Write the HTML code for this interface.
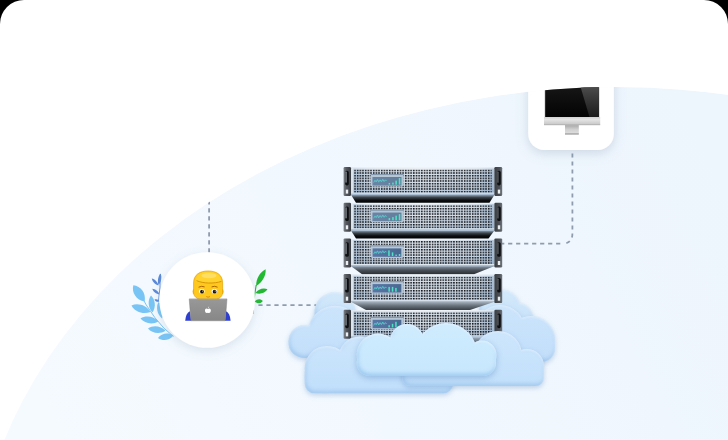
<!DOCTYPE html>
<html><head><meta charset="utf-8">
<style>
html,body{margin:0;padding:0;width:728px;height:440px;background:#000;overflow:hidden;font-family:"Liberation Sans",sans-serif}
#card{position:absolute;left:0;top:0;width:728px;height:440px;background:#fff;border-radius:24px 24px 0 0;overflow:hidden}
svg{position:absolute;left:0;top:0}
</style></head>
<body>
<div id="card">
<svg width="728" height="440" viewBox="0 0 728 440">
<defs>
  <clipPath id="clipC3L"><rect x="280" y="300" width="200" height="93.5"/></clipPath>
  <clipPath id="clipC3R"><rect x="380" y="300" width="200" height="86"/></clipPath>
  <clipPath id="clipC4"><rect x="340" y="300" width="200" height="76"/></clipPath>
  <filter id="cloudFx" x="-20%" y="-30%" width="140%" height="160%" color-interpolation-filters="sRGB">
    <feGaussianBlur in="SourceAlpha" stdDeviation="2.8" result="b1"/>
    <feOffset in="b1" dx="-0.5" dy="1.8" result="o1"/>
    <feFlood flood-color="#4a7fb8" flood-opacity="0.3"/>
    <feComposite in2="o1" operator="in" result="shadow"/>
    <feGaussianBlur in="SourceAlpha" stdDeviation="2.2" result="b2"/>
    <feOffset in="b2" dx="0.8" dy="-1.6" result="o2"/>
    <feComposite in="SourceAlpha" in2="o2" operator="out" result="inner"/>
    <feFlood flood-color="#93bfea" flood-opacity="0.8"/>
    <feComposite in2="inner" operator="in" result="innerC"/>
    <feOffset in="SourceAlpha" dy="1.3" result="o3"/>
    <feGaussianBlur in="o3" stdDeviation="0.8" result="o3b"/>
    <feComposite in="SourceAlpha" in2="o3b" operator="out" result="rim"/>
    <feFlood flood-color="#ffffff" flood-opacity="0.5"/>
    <feComposite in2="rim" operator="in" result="rimC"/>
    <feMerge>
      <feMergeNode in="shadow"/>
      <feMergeNode in="SourceGraphic"/>
      <feMergeNode in="innerC"/>
      <feMergeNode in="rimC"/>
    </feMerge>
  </filter>
  <filter id="cloudFx2" x="-20%" y="-30%" width="140%" height="160%" color-interpolation-filters="sRGB">
    <feGaussianBlur in="SourceAlpha" stdDeviation="3.2" result="b1"/>
    <feOffset in="b1" dx="-0.5" dy="2" result="o1"/>
    <feFlood flood-color="#4a7fb8" flood-opacity="0.4"/>
    <feComposite in2="o1" operator="in" result="shadow"/>
    <feGaussianBlur in="SourceAlpha" stdDeviation="2.2" result="b2"/>
    <feOffset in="b2" dx="1" dy="-1.6" result="o2"/>
    <feComposite in="SourceAlpha" in2="o2" operator="out" result="inner"/>
    <feFlood flood-color="#92c2ee" flood-opacity="0.9"/>
    <feComposite in2="inner" operator="in" result="innerC"/>
    <feOffset in="SourceAlpha" dy="1.4" result="o3"/>
    <feGaussianBlur in="o3" stdDeviation="0.9" result="o3b"/>
    <feComposite in="SourceAlpha" in2="o3b" operator="out" result="rim"/>
    <feFlood flood-color="#ffffff" flood-opacity="0.6"/>
    <feComposite in2="rim" operator="in" result="rimC"/>
    <feMerge>
      <feMergeNode in="shadow"/>
      <feMergeNode in="SourceGraphic"/>
      <feMergeNode in="innerC"/>
      <feMergeNode in="rimC"/>
    </feMerge>
  </filter>

  <clipPath id="ell"><ellipse cx="616" cy="597" rx="643" ry="510"/></clipPath>
  <linearGradient id="bgGrad" gradientUnits="userSpaceOnUse" x1="60" y1="440" x2="700" y2="100">
    <stop offset="0" stop-color="#f5faff"/>
    <stop offset="1" stop-color="#edf5fd"/>
  </linearGradient>
  <filter id="cardShadow" x="-50%" y="-50%" width="200%" height="200%">
    <feDropShadow dx="0" dy="3" stdDeviation="6" flood-color="#6f87a3" flood-opacity="0.28"/>
  </filter>
  <filter id="circShadow" x="-50%" y="-50%" width="200%" height="200%">
    <feDropShadow dx="0" dy="3" stdDeviation="5" flood-color="#7d93ad" flood-opacity="0.22"/>
  </filter>
  <pattern id="dots" x="354.2" y="169.6" width="2.675" height="2.66" patternUnits="userSpaceOnUse">
    <rect x="0" y="0" width="1.55" height="1.55" fill="#0f1216"/>
  </pattern>
  <linearGradient id="panelGradH" x1="0" y1="0" x2="1" y2="0">
    <stop offset="0" stop-color="#a9bdd3"/>
    <stop offset="0.12" stop-color="#cbd6e2"/>
    <stop offset="0.5" stop-color="#dde4ec"/>
    <stop offset="0.88" stop-color="#c8d4e1"/>
    <stop offset="1" stop-color="#a3b8cf"/>
  </linearGradient>
  <linearGradient id="scrBlue" x1="0" y1="0" x2="1" y2="0">
    <stop offset="0" stop-color="#5777a6"/>
    <stop offset="1" stop-color="#4a6790"/>
  </linearGradient>
  <linearGradient id="underGrad3" x1="0" y1="0" x2="0" y2="1">
    <stop offset="0" stop-color="#8d9aa8"/>
    <stop offset="0.5" stop-color="#4a5158"/>
    <stop offset="1" stop-color="#2a2f34"/>
  </linearGradient>
  <linearGradient id="underGrad4" x1="0" y1="0" x2="0" y2="1">
    <stop offset="0" stop-color="#a6b2be"/>
    <stop offset="0.5" stop-color="#68717b"/>
    <stop offset="1" stop-color="#3a4046"/>
  </linearGradient>
  <linearGradient id="panelGradV" x1="0" y1="0" x2="0" y2="1">
    <stop offset="0" stop-color="#ffffff" stop-opacity="0.2"/>
    <stop offset="0.5" stop-color="#8fb0d0" stop-opacity="0"/>
    <stop offset="1" stop-color="#6f96c0" stop-opacity="0.3"/>
  </linearGradient>
  <linearGradient id="handleGrad" x1="0" y1="0" x2="1" y2="0">
    <stop offset="0" stop-color="#7b8189"/>
    <stop offset="0.35" stop-color="#565a60"/>
    <stop offset="1" stop-color="#3a3e43"/>
  </linearGradient>
  <linearGradient id="handleGradR" x1="0" y1="0" x2="1" y2="0">
    <stop offset="0" stop-color="#3a3e43"/>
    <stop offset="0.65" stop-color="#4e5258"/>
    <stop offset="1" stop-color="#6f757c"/>
  </linearGradient>
  <linearGradient id="underGrad" x1="0" y1="0" x2="0" y2="1">
    <stop offset="0" stop-color="#9aabbd"/>
    <stop offset="0.35" stop-color="#3a4249"/>
    <stop offset="0.7" stop-color="#0a0c0e"/>
    <stop offset="1" stop-color="#020303"/>
  </linearGradient>
  <linearGradient id="cloudFront" gradientUnits="userSpaceOnUse" x1="0" y1="323" x2="0" y2="376">
    <stop offset="0" stop-color="#cfecfe"/>
    <stop offset="1" stop-color="#c7e7fd"/>
  </linearGradient>
  <linearGradient id="cloudMid" gradientUnits="userSpaceOnUse" x1="0" y1="330" x2="0" y2="393">
    <stop offset="0" stop-color="#cde6fc"/>
    <stop offset="1" stop-color="#c1dffb"/>
  </linearGradient>
  <linearGradient id="cloudMid2" gradientUnits="userSpaceOnUse" x1="0" y1="305" x2="0" y2="362">
    <stop offset="0" stop-color="#cce5fc"/>
    <stop offset="1" stop-color="#c2defa"/>
  </linearGradient>
  <linearGradient id="cloudBack" gradientUnits="userSpaceOnUse" x1="0" y1="289" x2="0" y2="335">
    <stop offset="0" stop-color="#d3e9fb"/>
    <stop offset="1" stop-color="#c6e0f8"/>
  </linearGradient>
  <linearGradient id="lapGrad" x1="0" y1="0" x2="0" y2="1">
    <stop offset="0" stop-color="#989899"/>
    <stop offset="1" stop-color="#878788"/>
  </linearGradient>
  <linearGradient id="scrGrad" x1="0" y1="0" x2="0" y2="1">
    <stop offset="0" stop-color="#202020"/>
    <stop offset="1" stop-color="#030303"/>
  </linearGradient>
  <linearGradient id="hlGrad" x1="0" y1="0" x2="0" y2="1">
    <stop offset="0" stop-color="#6a6a6a"/>
    <stop offset="0.55" stop-color="#3c3c3c"/>
    <stop offset="1" stop-color="#1c1c1c"/>
  </linearGradient>
  <linearGradient id="chinGrad" x1="0" y1="0" x2="0" y2="1">
    <stop offset="0" stop-color="#d2d2d2"/>
    <stop offset="0.3" stop-color="#e4e4e4"/>
    <stop offset="1" stop-color="#c4c4c4"/>
  </linearGradient>
  <linearGradient id="standGrad" x1="0" y1="0" x2="0" y2="1">
    <stop offset="0" stop-color="#a9a9a9"/>
    <stop offset="0.5" stop-color="#cfcfcf"/>
    <stop offset="1" stop-color="#dedede"/>
  </linearGradient>

  <g id="unit">
    <!-- under shadow -->
    
    <!-- panel -->
    <rect x="350.6" y="167.6" width="144" height="27.2" fill="url(#panelGradH)"/>
    <rect x="350.6" y="167.6" width="144" height="27.2" fill="url(#panelGradV)"/>
    <rect x="350.6" y="167.6" width="144" height="0.8" fill="#f4f7fa"/>
    <rect x="351" y="168" width="2.4" height="25" fill="#e6edf4" opacity="0.8"/>
    <rect x="350.6" y="192.6" width="144" height="1.2" fill="#dfe8f1"/>
    <rect x="350.6" y="193.8" width="144" height="1" fill="#a9bdd3"/>
    <rect x="354.2" y="169.6" width="137.5" height="23" fill="url(#dots)"/>
    <!-- display -->
    <rect x="370.5" y="173.9" width="33.3" height="12.7" rx="2" fill="#b7c6d5"/>
    <rect x="370.5" y="173.9" width="33.3" height="1.2" rx="0.6" fill="#8398ad"/>
    <rect x="372.6" y="177" width="28.7" height="8.4" fill="url(#scrBlue)"/>
    <!-- handles -->
    <rect x="343.6" y="167" width="7.4" height="29" rx="1.2" fill="url(#handleGrad)"/>
    <rect x="345.2" y="170.8" width="3.6" height="14.6" rx="1.6" fill="#0d0f11"/>
    <rect x="345.3" y="171.6" width="1.5" height="11.2" rx="0.7" fill="#7c8188"/>
    <rect x="345.8" y="189.6" width="2.4" height="4" fill="#eceff2"/>
    <rect x="494.4" y="167" width="7.8" height="29" rx="1.2" fill="url(#handleGradR)"/>
    <rect x="497.2" y="170.8" width="3.6" height="14.6" rx="1.6" fill="#0d0f11"/>
    <rect x="497.3" y="171.6" width="1.3" height="11.2" rx="0.6" fill="#5f646b"/>
    <rect x="497.8" y="189.6" width="2.4" height="4" fill="#eceff2"/>
  </g>
</defs>

<g clip-path="url(#ell)">
  <ellipse cx="616" cy="597" rx="643" ry="510" fill="url(#bgGrad)"/>

  <!-- dotted lines -->
  <g stroke="#8e9cae" stroke-width="1.8" fill="none" stroke-dasharray="4.2 3.8">
    <path d="M209.1 152.2 V254"/>
    <path d="M258.4 305.2 H345"/>
    <path d="M572.4 153.4 V233"/>
    <path d="M572.4 233.4 Q572.4 243.6 562.6 243.6" stroke-dasharray="4 4.4"/>
    <path d="M563 243.6 H502" stroke-dashoffset="5.3"/>
  </g>

  <!-- monitor card -->
  <rect x="528.2" y="20" width="85.6" height="130" rx="16" fill="#fff" filter="url(#cardShadow)"/>
  <!-- monitor -->
  <rect x="544.6" y="70" width="54.8" height="47.6" fill="#b9b9b9"/>
  <rect x="545.2" y="70" width="53.6" height="47" fill="url(#scrGrad)"/>
  <polygon points="575.5,70 598.8,70 598.8,117 589.5,117" fill="url(#hlGrad)"/>
  <rect x="544" y="117.1" width="56.2" height="8" fill="url(#chinGrad)"/>
  <rect x="544" y="124.5" width="56.2" height="0.6" fill="#a8a8a8"/>
  <rect x="565" y="125.1" width="13.8" height="8.4" fill="url(#standGrad)"/>
  <rect x="565" y="133.3" width="13.8" height="1.3" fill="#9a9a9a"/>

  <!-- back clouds (behind servers) -->
  <g filter="url(#cloudFx)" fill="url(#cloudBack)">
    <circle cx="335" cy="312.6" r="20.5"/>
    <circle cx="500" cy="310" r="21"/>
    <circle cx="518" cy="318" r="15"/>
  </g>
  <g filter="url(#cloudFx)" fill="url(#cloudMid2)">
    <circle cx="305" cy="341.5" r="16.5"/>
    <circle cx="335" cy="332.8" r="27"/>
    <rect x="288.8" y="330" width="90" height="27.8" rx="16"/>
  </g>
  <g filter="url(#cloudFx)" fill="url(#cloudMid2)">
    <circle cx="500" cy="330" r="25"/>
    <circle cx="531" cy="340" r="24"/>
    <rect x="470" y="330" width="85" height="32" rx="14"/>
  </g>

  <!-- servers -->
  <polygon transform="translate(0 0)" points="350.8,194.6 494.6,194.6 489.5,202.8 356,202.8" fill="url(#underGrad)"/>
  <use href="#unit" y="0"/>
  <g transform="translate(0 0)"><rect x="372.6" y="177" width="28.7" height="8.4" fill="#7890a6" opacity="0.55"/><path d="M373.6 182.6 l1.4 -2.2 l1.2 1.6 l1.3 -2.6 l1.2 2.8 l1.4 -2.4 l1.3 2 l1.4 -2.6 l1.3 2.4 l1.4 -1.8 l1.2 1.2" stroke="#58d6cf" stroke-width="0.8" fill="none" opacity="0.9"/><path d="M374 180.5 h12" stroke="#58d6cf" stroke-width="0.5" opacity="0.45"/><rect x="388.6" y="183.0" width="1.5" height="1.6" fill="#4fe3c6"/><rect x="392.2" y="182.6" width="1.5" height="2" fill="#4fe3c6"/><rect x="395.4" y="180.6" width="1.5" height="4" fill="#4fe3c6"/><rect x="398.8" y="178.0" width="1.5" height="6.6" fill="#4fe3c6"/></g>
  <polygon transform="translate(0 35.7)" points="350.8,194.6 494.6,194.6 488.5,202.8 356,202.8" fill="url(#underGrad)"/>
  <use href="#unit" y="35.7"/>
  <g transform="translate(0 35.7)"><rect x="372.6" y="177" width="28.7" height="8.4" fill="#7890a6" opacity="0.55"/><path d="M373.6 182.6 l1.4 -2.2 l1.2 1.6 l1.3 -2.6 l1.2 2.8 l1.4 -2.4 l1.3 2 l1.4 -2.6 l1.3 2.4 l1.4 -1.8 l1.2 1.2" stroke="#58d6cf" stroke-width="0.8" fill="none" opacity="0.9"/><path d="M374 180.5 h12" stroke="#58d6cf" stroke-width="0.5" opacity="0.45"/><rect x="388.6" y="182.4" width="1.5" height="2.2" fill="#4fe3c6"/><rect x="392.2" y="181.4" width="1.5" height="3.2" fill="#4fe3c6"/><rect x="395.4" y="180.0" width="1.5" height="4.6" fill="#4fe3c6"/><rect x="398.8" y="178.4" width="1.5" height="6.2" fill="#4fe3c6"/></g>
  <polygon transform="translate(0 71.4)" points="350.8,194.6 494.6,194.6 474,202.8 362,202.8" fill="url(#underGrad3)"/>
  <use href="#unit" y="71.4"/>
  <g transform="translate(0 71.4)"><path d="M373.6 182.6 l1.4 -2.2 l1.2 1.6 l1.3 -2.6 l1.2 2.8 l1.4 -2.4 l1.3 2 l1.4 -2.6 l1.3 2.4 l1.4 -1.8 l1.2 1.2" stroke="#58d6cf" stroke-width="0.8" fill="none" opacity="0.9"/><path d="M374 180.5 h12" stroke="#58d6cf" stroke-width="0.5" opacity="0.45"/><rect x="388.2" y="179.0" width="1.5" height="5.6" fill="#4fe3c6"/><rect x="391.8" y="181.0" width="1.5" height="3.6" fill="#4fe3c6"/><rect x="395.4" y="183.2" width="1.5" height="1.4" fill="#4fe3c6"/><rect x="398.8" y="182.6" width="1.5" height="2" fill="#4fe3c6"/></g>
  <polygon transform="translate(0 107.1)" points="350.8,194.6 494.6,194.6 470,202.8 366,202.8" fill="url(#underGrad4)"/>
  <use href="#unit" y="107.1"/>
  <g transform="translate(0 107.1)"><path d="M373.6 182.6 l1.4 -2.2 l1.2 1.6 l1.3 -2.6 l1.2 2.8 l1.4 -2.4 l1.3 2 l1.4 -2.6 l1.3 2.4 l1.4 -1.8 l1.2 1.2" stroke="#58d6cf" stroke-width="0.8" fill="none" opacity="0.9"/><path d="M374 180.5 h12" stroke="#58d6cf" stroke-width="0.5" opacity="0.45"/><rect x="388.4" y="179.79999999999998" width="1.5" height="4.8" fill="#4fe3c6"/><rect x="391.8" y="179.79999999999998" width="1.5" height="4.8" fill="#4fe3c6"/><rect x="395.2" y="180.79999999999998" width="1.5" height="3.8" fill="#4fe3c6"/></g>
  <polygon transform="translate(0 142.8)" points="350.8,194.6 494.6,194.6 470,202.8 366,202.8" fill="url(#underGrad4)"/>
  <use href="#unit" y="142.8"/>
  <g transform="translate(0 142.8)"><path d="M373.6 182.6 l1.4 -2.2 l1.2 1.6 l1.3 -2.6 l1.2 2.8 l1.4 -2.4 l1.3 2 l1.4 -2.6 l1.3 2.4 l1.4 -1.8 l1.2 1.2" stroke="#58d6cf" stroke-width="0.8" fill="none" opacity="0.9"/><path d="M374 180.5 h12" stroke="#58d6cf" stroke-width="0.5" opacity="0.45"/><rect x="388.4" y="182.4" width="1.5" height="2.2" fill="#4fe3c6"/><rect x="391.8" y="181.0" width="1.5" height="3.6" fill="#4fe3c6"/><rect x="395.2" y="179.0" width="1.5" height="5.6" fill="#4fe3c6"/></g>

  <!-- bottom clouds -->
  <g filter="url(#cloudFx)" fill="url(#cloudMid)">
    <g clip-path="url(#clipC3L)">
    <circle cx="327" cy="368.2" r="22.3"/>
    <circle cx="360" cy="358" r="21.6"/>
    <circle cx="395" cy="360" r="22"/>
    <rect x="304.7" y="362" width="148.3" height="31.5" rx="10"/>
    <rect x="304.7" y="362" width="40" height="31.5" rx="20"/>
    </g>
  </g>
  <g filter="url(#cloudFx)" fill="url(#cloudMid)">
    <g clip-path="url(#clipC3R)">
    <circle cx="498" cy="355" r="24"/>
    <circle cx="527" cy="366" r="17"/>
    <circle cx="455" cy="362" r="25"/>
    <rect x="402" y="360" width="141.7" height="26" rx="8"/>
    <rect x="500" y="360" width="43.7" height="26" rx="16"/>
    </g>
  </g>

  <!-- front cloud -->
  <g filter="url(#cloudFx2)" fill="url(#cloudFront)">
    <g clip-path="url(#clipC4)">
    <circle cx="378" cy="355" r="21.4"/>
    <circle cx="407" cy="341" r="17"/>
    <circle cx="446" cy="354.4" r="31.3"/>
    <circle cx="482" cy="355" r="14.5"/>
    <rect x="356.6" y="350" width="139.4" height="26" rx="13"/>
    <rect x="378" y="345" width="104" height="31"/>
    </g>
  </g>

  <!-- leaves left -->
  <g>
  <path d="M160.3 274 Q160.5 288 158.5 301" stroke="#5a89d9" stroke-width="0.9" fill="none"/>
  <path transform="translate(159.60 279.25) rotate(-80.1)" d="M-5.84 0 C-2.33 -2.16 2.92 -2.00 5.84 0 C2.92 2.00 -2.33 2.16 -5.84 0Z" fill="#5a89d9"/>
  <path transform="translate(155.15 282.00) rotate(-133.7)" d="M-4.84 0 C-1.94 -1.89 2.42 -1.75 4.84 0 C2.42 1.75 -1.94 1.89 -4.84 0Z" fill="#5a89d9"/>
  <path transform="translate(155.90 291.65) rotate(-141.6)" d="M-4.59 0 C-1.84 -1.89 2.30 -1.75 4.59 0 C2.30 1.75 -1.84 1.89 -4.59 0Z" fill="#5a89d9"/>
  <path transform="translate(157.00 300.50) rotate(-158.2)" d="M-2.69 0 C-1.08 -1.62 1.35 -1.50 2.69 0 C1.35 1.50 -1.08 1.62 -2.69 0Z" fill="#5a89d9"/>
  <path d="M173.5 336.5 Q154 322 138 290" stroke="#78c4f4" stroke-width="1" fill="none"/>
  <path transform="translate(138.95 293.40) rotate(-124.9) scale(1 1.2)" d="M-9.88 0 C-3.95 -5.13 4.94 -4.75 9.88 0 C4.94 4.75 -3.95 5.13 -9.88 0Z" fill="#78c4f4"/>
  <path transform="translate(141.00 308.75) rotate(-161.1) scale(1 1.2)" d="M-10.04 0 C-4.02 -4.32 5.02 -4.00 10.04 0 C5.02 4.00 -4.02 4.32 -10.04 0Z" fill="#78c4f4"/>
  <path transform="translate(151.75 304.00) rotate(-95.0) scale(1 1.2)" d="M-8.53 0 C-3.41 -3.51 4.27 -3.25 8.53 0 C4.27 3.25 -3.41 3.51 -8.53 0Z" fill="#78c4f4"/>
  <path transform="translate(149.50 320.00) rotate(-170.5) scale(1 1.2)" d="M-9.12 0 C-3.65 -3.78 4.56 -3.50 9.12 0 C4.56 3.50 -3.65 3.78 -9.12 0Z" fill="#78c4f4"/>
  <path transform="translate(160.25 310.25) rotate(-102.0) scale(1 1.2)" d="M-8.43 0 C-3.37 -3.38 4.22 -3.12 8.43 0 C4.22 3.12 -3.37 3.38 -8.43 0Z" fill="#78c4f4"/>
  <path transform="translate(156.75 329.65) rotate(-172.5) scale(1 1.2)" d="M-8.83 0 C-3.53 -3.78 4.41 -3.50 8.83 0 C4.41 3.50 -3.53 3.78 -8.83 0Z" fill="#78c4f4"/>
  <path transform="translate(165.75 336.75) rotate(170.8) scale(1 1.2)" d="M-7.85 0 C-3.14 -3.65 3.93 -3.38 7.85 0 C3.93 3.38 -3.14 3.65 -7.85 0Z" fill="#78c4f4"/>
  </g>
  <!-- leaves right -->
  <g>
  <path d="M252.8 314 Q253.8 299 256.2 285" stroke="#22b832" stroke-width="1.1" fill="none"/>
  <path transform="translate(260.90 277.65) rotate(-60.6)" d="M-9.58 0 C-3.83 -3.78 4.79 -3.50 9.58 0 C4.79 3.50 -3.83 3.78 -9.58 0Z" fill="#22b832"/>
  <path transform="translate(261.50 291.15) rotate(-17.1)" d="M-6.28 0 C-2.51 -3.10 3.14 -2.88 6.28 0 C3.14 2.88 -2.51 3.10 -6.28 0Z" fill="#22b832"/>
  <path transform="translate(258.80 301.25) rotate(-3.6)" d="M-4.01 0 C-1.60 -2.84 2.00 -2.62 4.01 0 C2.00 2.62 -1.60 2.84 -4.01 0Z" fill="#22b832"/>
  </g>

  <!-- person circle -->
  <circle cx="207.2" cy="300" r="47.8" fill="#fff" filter="url(#circShadow)"/>
  <!-- emoji -->
  <g>
    <ellipse cx="193.8" cy="291.5" rx="1.2" ry="2.6" fill="#f2b014"/>
    <ellipse cx="222.4" cy="291.5" rx="1.2" ry="2.6" fill="#f2b014"/>
    <path d="M193.6 283 C193.6 274.5 200 271 208.1 271 C216.2 271 222.6 274.5 222.6 283 L222.6 292.5 C222.6 297.5 217.5 300.5 208.1 300.5 C198.7 300.5 193.6 297.5 193.6 292.5Z" fill="#ffc81f" stroke="#e3a004" stroke-width="0.7"/>
    <path d="M195.5 281 C196 274.5 201 271.8 208.1 271.8 C215.2 271.8 220.5 274.5 221.3 281.5 C214 283.8 203 283.6 195.5 281Z" fill="#ffd22e"/>
    <ellipse cx="209" cy="275.6" rx="7.5" ry="2.6" fill="#ffe27a" opacity="0.75"/>
    <path d="M196.5 280.6 C203 283.6 214 283.8 221.4 281.4" stroke="#d48f00" stroke-width="0.9" fill="none"/>
    <path d="M198.6 287.2 q3 -1.6 6 -0.3" stroke="#a86400" stroke-width="1" fill="none"/>
    <path d="M211.6 286.9 q3 -1.3 6 0.3" stroke="#a86400" stroke-width="1" fill="none"/>
    <ellipse cx="201.8" cy="291.3" rx="2.8" ry="2.3" fill="#fff"/>
    <ellipse cx="214.4" cy="291.3" rx="2.8" ry="2.3" fill="#fff"/>
    <circle cx="202" cy="291.7" r="1.9" fill="#231608"/>
    <circle cx="214.6" cy="291.7" r="1.9" fill="#231608"/>
    <circle cx="202.6" cy="290.9" r="0.5" fill="#fff"/>
    <circle cx="215.2" cy="290.9" r="0.5" fill="#fff"/>
    <path d="M206.3 296.6 q1.8 1.2 3.6 0" stroke="#e08a00" stroke-width="1" fill="none"/>
    <path d="M185.2 320.8 Q185.8 313 190 311.3 L191.2 320.8Z" fill="#2f3fcf"/>
    <path d="M230.6 320.8 Q230 313 226 311.3 L225 320.8Z" fill="#2f3fcf"/>
    <path d="M189.2 298.9 H227 L225.3 320.8 H190.9Z" fill="url(#lapGrad)" stroke="#76767a" stroke-width="0.4"/><path d="M189.4 299.2 H226.8" stroke="#b4b4b8" stroke-width="0.6"/>
    <path d="M206.6 308.6 q-1.7 0 -1.7 1.9 q0 2.4 1.7 2.6 q0.6 0 1.3 -0.3 q0.7 0.3 1.3 0.3 q1.7 -0.2 1.7 -2.6 q0 -1.9 -1.7 -1.9 q-0.6 0 -1.3 0.3 q-0.7 -0.3 -1.3 -0.3z M207.9 308.1 q0.2 -1.3 1.3 -1.6 q0 1.3 -1.3 1.6z" fill="#fff"/>
  </g>
</g>
</svg>
</div>
</body></html>
